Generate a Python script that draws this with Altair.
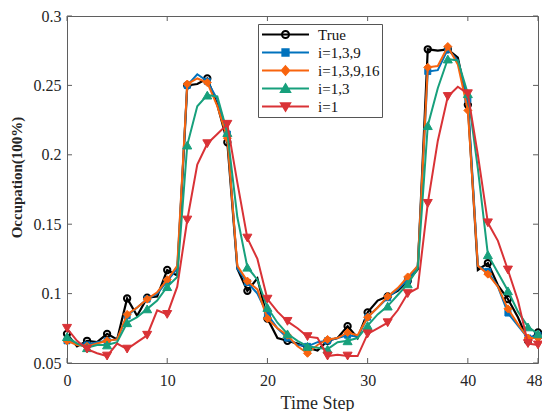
import altair as alt
import pandas as pd

# ---------------- data ----------------
t_steps = list(range(48))
series_names = ["True", "i=1,3,9", "i=1,3,9,16", "i=1,3", "i=1"]

true_vals = [0.071, 0.062, 0.066, 0.065, 0.071, 0.067, 0.0965, 0.084, 0.097, 0.098,
             0.117, 0.113, 0.250, 0.251, 0.255, 0.236, 0.209, 0.118, 0.102, 0.111,
             0.082, 0.068, 0.066, 0.064, 0.061, 0.059, 0.066, 0.068, 0.0765, 0.068,
             0.0865, 0.095, 0.098, 0.102, 0.109, 0.1175, 0.276, 0.275, 0.276, 0.270,
             0.236, 0.117, 0.122, 0.106, 0.096, 0.083, 0.066, 0.072]
i139_vals = [0.066, 0.064, 0.063, 0.065, 0.066, 0.067, 0.084, 0.090, 0.096, 0.100,
             0.109, 0.118, 0.250, 0.258, 0.253, 0.240, 0.215, 0.118, 0.108, 0.100,
             0.085, 0.075, 0.068, 0.063, 0.062, 0.065, 0.066, 0.068, 0.070, 0.069,
             0.083, 0.090, 0.097, 0.103, 0.110, 0.120, 0.260, 0.261, 0.276, 0.268,
             0.240, 0.120, 0.116, 0.105, 0.086, 0.077, 0.068, 0.070]
i13916_vals = [0.066, 0.063, 0.062, 0.064, 0.066, 0.067, 0.085, 0.090, 0.096, 0.101,
               0.110, 0.120, 0.251, 0.255, 0.252, 0.235, 0.212, 0.120, 0.109, 0.103,
               0.082, 0.075, 0.070, 0.062, 0.057, 0.063, 0.067, 0.068, 0.072, 0.070,
               0.083, 0.090, 0.098, 0.104, 0.112, 0.120, 0.263, 0.264, 0.278, 0.265,
               0.232, 0.120, 0.114, 0.105, 0.089, 0.078, 0.068, 0.068]
i13_vals = [0.069, 0.064, 0.061, 0.063, 0.063, 0.065, 0.079, 0.083, 0.089, 0.095,
            0.105, 0.112, 0.207, 0.235, 0.243, 0.242, 0.216, 0.155, 0.119, 0.110,
            0.090, 0.079, 0.071, 0.066, 0.062, 0.061, 0.060, 0.065, 0.066, 0.068,
            0.077, 0.085, 0.091, 0.099, 0.107, 0.118, 0.221, 0.248, 0.269, 0.268,
            0.244, 0.190, 0.128, 0.115, 0.102, 0.087, 0.076, 0.071]
i1_vals = [0.075, 0.066, 0.060, 0.057, 0.055, 0.064, 0.060, 0.065, 0.070, 0.088,
           0.085, 0.105, 0.153, 0.193, 0.208, 0.215, 0.222, 0.180, 0.140, 0.125,
           0.096, 0.087, 0.080, 0.075, 0.069, 0.068, 0.055, 0.056, 0.055, 0.055,
           0.071, 0.075, 0.079, 0.088, 0.100, 0.104, 0.165, 0.210, 0.242, 0.249,
           0.244, 0.200, 0.151, 0.138, 0.117, 0.095, 0.064, 0.063]

x_tick_values = [0, 10, 20, 30, 40, 47]
y_tick_values = [0.05, 0.1, 0.15, 0.2, 0.25, 0.3]

# ---------------- styles ----------------
colors = ["#000000", "#0072BD", "#F8640E", "#17A07C", "#D93236"]
fills = ["transparent", "#0072BD", "#F8640E", "#17A07C", "#D93236"]
shapes = ["circle", "square", "diamond", "triangle-up", "triangle-down"]
sizes = [40, 36, 64, 81, 81]
LINE = "M-3.13,0H3.13"
legend_paths = [
    LINE + "M0.47,0A0.47,0.47 0 1,1 -0.47,0A0.47,0.47 0 1,1 0.47,0Z",
    LINE + "M-0.42,-0.42H0.42V0.42H-0.42Z",
    LINE + "M0,-0.56L0.5,0L0,0.56L-0.5,0Z",
    LINE + "M0,-0.55L0.6,0.45L-0.6,0.45Z",
    LINE + "M0,0.55L0.6,-0.45L-0.6,-0.45Z",
]
FONT = "Liberation Serif"
AX = "#5f5f5f"
W, H = 471, 347

all_vals = [true_vals, i139_vals, i13916_vals, i13_vals, i1_vals]
rows = []
for name, vals in zip(series_names, all_vals):
    for t, v in zip(t_steps, vals):
        rows.append({"series": name, "t": t, "v": v,
                     "marker": bool(t % 2 == 0 or t == t_steps[-1])})
df = pd.DataFrame(rows)

xscale = alt.Scale(domain=[0, 47], nice=False, zero=False)
yscale = alt.Scale(domain=[0.05, 0.3], nice=False, zero=False)

x_axis = alt.Axis(values=x_tick_values,
                  labelExpr="datum.value == 47 ? '48' : datum.label",
                  title="Time Step", ticks=False, tickSize=0, domain=False, grid=False,
                  labelPadding=9, labelFont=FONT, labelFontSize=16, labelColor="#262626",
                  labelFlush=True, labelFlushOffset=4,
                  titleFont=FONT, titleFontSize=18, titleFontWeight="normal",
                  titleColor="#262626", titleX=250, titleY=40, titleBaseline="middle")
y_axis = alt.Axis(values=y_tick_values, format="~g",
                  title="Occupation(100%)", ticks=False, tickSize=0, domain=False, grid=False,
                  labelPadding=6, labelFont=FONT, labelFontSize=16, labelColor="#262626",
                  labelFlush=False,
                  titleFont=FONT, titleFontSize=15, titleFontWeight="bold",
                  titleColor="#262626", titleX=-51, titleY=161, titleBaseline="middle",
                  titleAngle=270)


def X():
    return alt.X("t:Q", scale=xscale, axis=x_axis)


def Y():
    return alt.Y("v:Q", scale=yscale, axis=y_axis)


xt = pd.DataFrame({"t": x_tick_values})
yt = pd.DataFrame({"v": y_tick_values})

layers = [
    alt.Chart(xt).mark_rule(color=AX, strokeWidth=1).encode(
        x=X(), y=alt.value(H), y2=alt.value(H - 5)),
    alt.Chart(xt).mark_rule(color=AX, strokeWidth=1).encode(
        x=X(), y=alt.value(0), y2=alt.value(5)),
    alt.Chart(yt).mark_rule(color=AX, strokeWidth=1).encode(
        y=Y(), x=alt.value(0), x2=alt.value(5)),
    alt.Chart(yt).mark_rule(color=AX, strokeWidth=1).encode(
        y=Y(), x=alt.value(W), x2=alt.value(W - 5)),
]

for name, col, fil, shp, sz in zip(series_names, colors, fills, shapes, sizes):
    base = alt.Chart(df).transform_filter(alt.datum.series == name)
    layers.append(base.mark_line(color=col, strokeWidth=2.2 if name == "True" else 2)
                  .encode(x=X(), y=Y()))
    pts = base.transform_filter(alt.datum.marker)
    if name == "True":
        layers.append(pts.mark_point(shape=shp, size=sz, filled=False, stroke=col,
                                     strokeWidth=2, opacity=1).encode(x=X(), y=Y()))
    else:
        layers.append(pts.mark_point(shape=shp, size=sz, filled=True, fill=col, stroke=col,
                                     strokeWidth=1, opacity=1).encode(x=X(), y=Y()))

legend = alt.Legend(title=None, orient="none", legendX=191, legendY=8,
                    symbolSize=225, symbolStrokeWidth=2, symbolOffset=17,
                    labelOffset=24, labelFont=FONT, labelFontSize=15, labelColor="#111111",
                    labelLimit=300, padding=2, rowPadding=1,
                    strokeColor="#555555", fillColor="white")
legend_layer = (alt.Chart(df).transform_filter("false")
                .mark_point(size=225, strokeWidth=2, opacity=1, filled=False)
                .encode(
                    shape=alt.Shape("series:N", scale=alt.Scale(domain=series_names, range=legend_paths), legend=legend),
                    stroke=alt.Stroke("series:N", scale=alt.Scale(domain=series_names, range=colors), legend=legend),
                    fill=alt.Fill("series:N", scale=alt.Scale(domain=series_names, range=fills), legend=legend),
                ))
layers.append(legend_layer)

chart = (alt.layer(*layers)
         .properties(width=W, height=H,
                     autosize=alt.AutoSizeParams(type="none"),
                     padding={"left": 59, "top": 8, "right": 4, "bottom": 48},
                     background="white")
         .configure_view(stroke=AX, strokeWidth=1))

chart.save("out.html", embed_options={"renderer": "svg", "actions": False})
